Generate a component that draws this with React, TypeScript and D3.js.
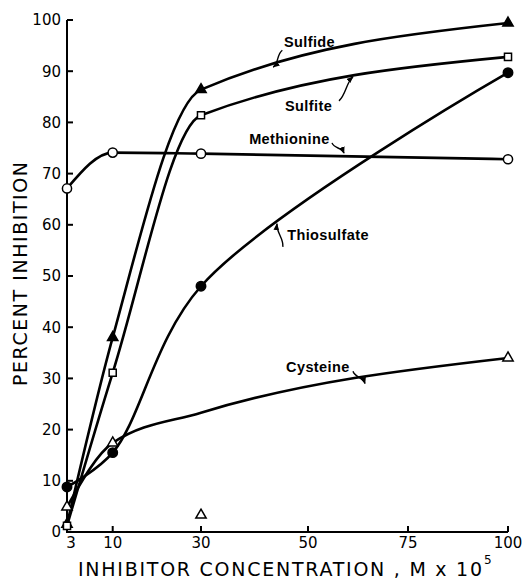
import * as d3 from "d3"

// values (percent inhibition)
const concentration = [3, 10, 30, 100]
const sulfide = [1.5, 38, 86.4, 99.4]
const sulfite = [1.2, 31.1, 81.4, 92.8]
const methionine = [67.1, 74.1, 73.9, 72.8]
const thiosulfate = [8.8, 15.5, 48, 89.7]
const cysteine = [4.9, 17.4, 3.3, 34]
// the drawn cysteine curve passes above the low reading at 30
const cysteineCurve = [4.9, 17.4, 23.3, 34]

const xTicks = [3, 10, 30, 50, 75, 100]
const yTicks = [0, 10, 20, 30, 40, 50, 60, 70, 80, 90, 100]

// curve labels, placed in data units (concentration, percent)
const labelNames = ["Sulfide", "Sulfite", "Methionine", "Thiosulfate", "Cysteine"]
const labelAt = [
  [45.5, 95.7],
  [45.7, 83.2],
  [39, 76.8],
  [46.1, 58],
  [45.9, 32.2],
]
const leaderFrom = [
  [45.2, 94.1],
  [57.75, 84.2],
  [56, 76],
  [45.3, 55.7],
  [61.25, 31.4],
]
const leaderTo = [
  [43.5, 90.8],
  [61.25, 88.9],
  [59, 74],
  [44.2, 60.2],
  [64.25, 29],
]

const W = 528
const H = 582

// the printed x axis is hand spaced, so map each tick to where it sits
const x = d3.scaleLinear().domain(xTicks).range([67, 112.7, 201, 308, 408, 508])
const y = d3.scaleLinear().domain([0, 100]).range([532, 20])

const makeLine = (curve: d3.CurveFactory) =>
  d3
    .line<number>()
    .x((_, i) => x(concentration[i]))
    .y((d) => y(d))
    .curve(curve)

const series = [
  { name: "Sulfide", values: sulfide, curve: sulfide, shape: d3.curveMonotoneX, symbol: d3.symbolTriangle, filled: true, size: 46 },
  { name: "Sulfite", values: sulfite, curve: sulfite, shape: d3.curveMonotoneX, symbol: d3.symbolSquare, filled: false, size: 50 },
  { name: "Methionine", values: methionine, curve: methionine, shape: d3.curveMonotoneX, symbol: d3.symbolCircle, filled: false, size: 66 },
  { name: "Thiosulfate", values: thiosulfate, curve: thiosulfate, shape: d3.curveCatmullRom.alpha(0.5), symbol: d3.symbolCircle, filled: true, size: 70 },
  { name: "Cysteine", values: cysteine, curve: cysteineCurve, shape: d3.curveMonotoneX, symbol: d3.symbolTriangle, filled: false, size: 46 },
]

function leaderPath(s: number[], e: number[]) {
  const dx = e[0] - s[0]
  const dy = e[1] - s[1]
  const len = Math.hypot(dx, dy) || 1
  const nx = (-dy / len) * 3
  const ny = (dx / len) * 3
  return `M${s[0]},${s[1]} C${s[0] + dx / 3 + nx},${s[1] + dy / 3 + ny} ${s[0] + (2 * dx) / 3 - nx},${
    s[1] + (2 * dy) / 3 - ny
  } ${e[0]},${e[1]}`
}

const tickFont = "'DejaVu Sans', 'Liberation Sans', sans-serif"
const labelFont = "'Liberation Sans', Arial, sans-serif"

export default function App() {
  const x0 = x(3)
  const x1 = x(100)
  const y0 = y(0)
  const y1 = y(100)

  return (
    <svg
      width={W}
      height={H}
      viewBox={`0 0 ${W} ${H}`}
      style={{ position: "absolute", left: 0, top: 0, background: "white" }}
    >
      <defs>
        <marker
          id="arrow"
          viewBox="0 0 10 10"
          refX="9"
          refY="5"
          markerWidth="7"
          markerHeight="7"
          markerUnits="userSpaceOnUse"
          orient="auto"
        >
          <path d="M0,1 L10,5 L0,9 z" fill="black" />
        </marker>
      </defs>
      <rect width={W} height={H} fill="white" />

      {/* axes */}
      <path d={`M${x0},${y1} V${y0} H${x1}`} fill="none" stroke="black" strokeWidth={2} />
      {yTicks.map((t) => (
        <g key={"y" + t}>
          <line x1={x0} x2={x0 + 6} y1={y(t)} y2={y(t)} stroke="black" strokeWidth={2} />
          <text
            x={x0 - 6}
            y={y(t)}
            dy="0.36em"
            textAnchor="end"
            fontFamily={tickFont}
            fontSize={15}
          >
            {t}
          </text>
        </g>
      ))}
      {xTicks.map((t, i) => (
        <g key={"x" + t}>
          {i > 0 && <line x1={x(t)} x2={x(t)} y1={y0} y2={y0 - 6} stroke="black" strokeWidth={2} />}
          <text
            x={x(t) + (i === 0 ? 4 : 0)}
            y={y0 + 16}
            textAnchor="middle"
            fontFamily={tickFont}
            fontSize={15}
          >
            {t}
          </text>
        </g>
      ))}

      {/* axis titles */}
      <text
        transform={`translate(27,274) rotate(-90)`}
        textAnchor="middle"
        fontFamily={tickFont}
        fontSize={19}
        textLength={224}
        lengthAdjust="spacing"
      >
        PERCENT  INHIBITION
      </text>
      <text x={78} y={576} fontFamily={tickFont} fontSize={19} textLength={404} lengthAdjust="spacing">
        INHIBITOR  CONCENTRATION , M x 10
      </text>
      <text x={484} y={564} fontFamily={tickFont} fontSize={12}>
        5
      </text>

      {/* curves */}
      {series.map((s) => (
        <path key={s.name} d={makeLine(s.shape)(s.curve) || ""} fill="none" stroke="black" strokeWidth={2.6} />
      ))}

      {/* points */}
      {series.map((s) =>
        s.values.map((v, i) => (
          <path
            key={s.name + i}
            transform={`translate(${x(concentration[i])},${y(v)})`}
            d={d3.symbol(s.symbol, s.size)() || ""}
            fill={s.filled ? "black" : "white"}
            stroke="black"
            strokeWidth={1.5}
          />
        ))
      )}

      {/* labels with leaders */}
      {labelNames.map((n, i) => {
        const s = [x(leaderFrom[i][0]), y(leaderFrom[i][1])]
        const e = [x(leaderTo[i][0]), y(leaderTo[i][1])]
        return (
          <g key={n}>
            <text
              x={x(labelAt[i][0])}
              y={y(labelAt[i][1])}
              dy="0.36em"
              fontFamily={labelFont}
              fontWeight="bold"
              fontSize={14.5}
              letterSpacing={0.4}
            >
              {n}
            </text>
            <path d={leaderPath(s, e)} fill="none" stroke="black" strokeWidth={1.4} markerEnd="url(#arrow)" />
          </g>
        )
      })}
    </svg>
  )
}
